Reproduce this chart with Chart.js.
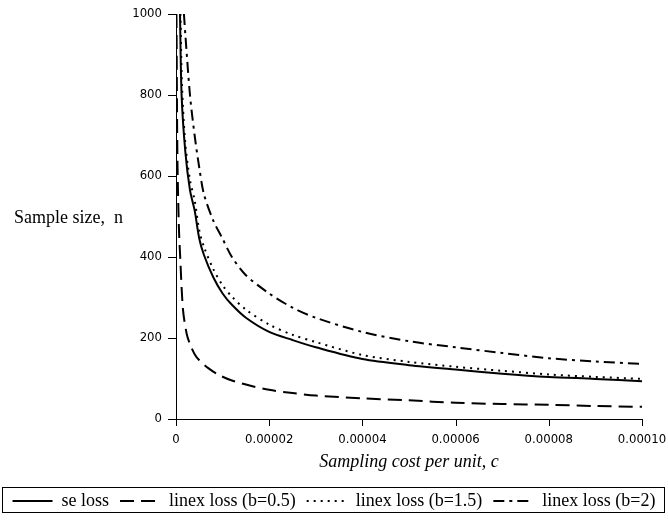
<!DOCTYPE html>
<html>
<head>
<meta charset="utf-8">
<script src="https://cdn.jsdelivr.net/npm/chart.js@4"></script>
<style>
  body { margin: 0; background: #fff; }
  #wrap { width: 668px; height: 521px; }
</style>
</head>
<body>
<div id="wrap"><canvas id="costChart" width="668" height="521"></canvas></div>
<script>
// sampling cost in units of 1e-6, sample size n
const seCost = [0.86, 1.2, 2, 3, 4, 5, 6, 8, 10, 12, 15, 20, 25, 30, 40, 50, 60, 70, 80, 90, 100];
const seN = [1000, 800, 660, 565, 515, 445, 405, 350, 310, 282, 250, 215, 195, 177, 148, 133, 122, 112, 104, 99, 93];

const linex05Cost = [0.1, 0.3, 0.6, 0.9, 1.5, 2.3, 3, 4, 5, 7, 9, 12, 16, 20, 25, 30, 40, 50, 60, 70, 80, 90, 100];
const linex05N = [1000, 650, 480, 400, 270, 210, 185, 160, 145, 125, 110, 95, 82, 72, 64, 58, 51, 46, 40, 37, 35, 32, 30];

const linex15Cost = [0.95, 1.3, 2, 3, 4, 5, 6, 8, 10, 12, 15, 20, 25, 30, 40, 50, 60, 70, 80, 90, 100];
const linex15N = [1000, 820, 680, 590, 540, 465, 425, 370, 330, 302, 270, 233, 208, 190, 158, 141, 129, 119, 110, 104, 99];

const linex2Cost = [1.7, 2, 3, 4, 5, 6, 8, 10, 12, 15, 20, 25, 30, 40, 50, 60, 70, 80, 90, 100];
const linex2N = [1000, 950, 800, 700, 620, 555, 490, 445, 400, 355, 310, 275, 250, 215, 192, 177, 163, 150, 142, 136];

const seriesNames = ['se loss', 'linex loss (b=0.5)', 'linex loss (b=1.5)', 'linex loss (b=2)'];
const xTicks = [0, 0.00002, 0.00004, 0.00006, 0.00008, 0.0001];
const xTickLabels = ['0', '0.00002', '0.00004', '0.00006', '0.00008', '0.00010'];
const yTicks = [0, 200, 400, 600, 800, 1000];

function pts(cost, n) {
  return cost.map((c, i) => ({ x: c * 1e-6, y: n[i] }));
}

const serif = 'Liberation Serif, Times New Roman, serif';
const tickFont = { family: 'Liberation Sans Narrow, DejaVu Sans Condensed, Arial, sans-serif', size: 13 };

// tick marks, horizontal y title and legend frame
const extras = {
  id: 'extras',
  afterDraw(chart) {
    const ctx = chart.ctx;
    const xs = chart.scales.x, ys = chart.scales.y;
    const area = chart.chartArea;
    ctx.save();
    ctx.strokeStyle = '#000';
    ctx.lineWidth = 1;
    ctx.beginPath();
    xTicks.forEach(v => {
      const px = Math.round(xs.getPixelForValue(v)) + 0.5;
      ctx.moveTo(px, area.bottom);
      ctx.lineTo(px, area.bottom + 7);
    });
    yTicks.forEach(v => {
      const py = Math.round(ys.getPixelForValue(v)) + 0.5;
      ctx.moveTo(area.left - 8, py);
      ctx.lineTo(area.left, py);
    });
    ctx.stroke();

    ctx.fillStyle = '#000';
    ctx.textBaseline = 'alphabetic';
    ctx.font = '18px ' + serif;
    ctx.textAlign = 'left';
    ctx.fillText('Sample size,  n', 14, 223);

    ctx.strokeRect(2.5, 487.5, 662, 25);
    ctx.restore();
  }
};

const ctx = document.getElementById('costChart').getContext('2d');
const costChart = new Chart(ctx, {
  type: 'line',
  data: {
    datasets: [
      { label: seriesNames[0], data: pts(seCost, seN), borderDash: [] },
      { label: seriesNames[1], data: pts(linex05Cost, linex05N), borderDash: [14, 7] },
      { label: seriesNames[2], data: pts(linex15Cost, linex15N), borderDash: [2, 5] },
      { label: seriesNames[3], data: pts(linex2Cost, linex2N), borderDash: [11, 5, 3, 5] }
    ].map(d => Object.assign(d, {
      borderColor: '#000',
      backgroundColor: '#000',
      borderWidth: 2,
      pointRadius: 0,
      tension: 0.3,
      fill: false
    }))
  },
  options: {
    responsive: false,
    animation: false,
    layout: { padding: { top: 14, right: 0, left: 0, bottom: 1 } },
    scales: {
      x: {
        type: 'linear',
        min: 0,
        max: 0.0001,
        afterBuildTicks: s => { s.ticks = xTicks.map(v => ({ value: v })); },
        afterFit: s => { s.height = 62; s.paddingLeft = 0; s.paddingRight = 26; },
        ticks: {
          color: '#000',
          font: tickFont,
          padding: 5,
          maxRotation: 0,
          autoSkip: false,
          callback: (v, i) => xTickLabels[i]
        },
        title: {
          display: true,
          text: 'Sampling cost per unit, c',
          color: '#000',
          font: { family: serif, size: 18, style: 'italic' },
          padding: { top: 0, bottom: 8 }
        },
        grid: { display: false },
        border: { display: true, color: '#000' }
      },
      y: {
        min: 0,
        max: 1000,
        afterBuildTicks: s => { s.ticks = yTicks.map(v => ({ value: v })); },
        afterFit: s => { s.width = 176; s.paddingTop = 0; s.paddingBottom = 0; },
        ticks: { color: '#000', font: tickFont, padding: 6, callback: v => String(v) },
        grid: { display: false },
        border: { display: true, color: '#000' }
      }
    },
    plugins: {
      legend: {
        display: true,
        position: 'bottom',
        labels: {
          usePointStyle: true,
          pointStyle: 'line',
          pointStyleWidth: 40,
          color: '#000',
          padding: 11,
          font: { family: serif, size: 18 },
          generateLabels: chart => chart.data.datasets.map((d, i) => ({
            text: d.label,
            datasetIndex: i,
            hidden: false,
            fillStyle: '#000',
            strokeStyle: '#000',
            fontColor: '#000',
            lineWidth: 2,
            lineDash: d.borderDash,
            pointStyle: 'line'
          }))
        }
      },
      tooltip: { enabled: false }
    }
  },
  plugins: [extras]
});
</script>
</body>
</html>
